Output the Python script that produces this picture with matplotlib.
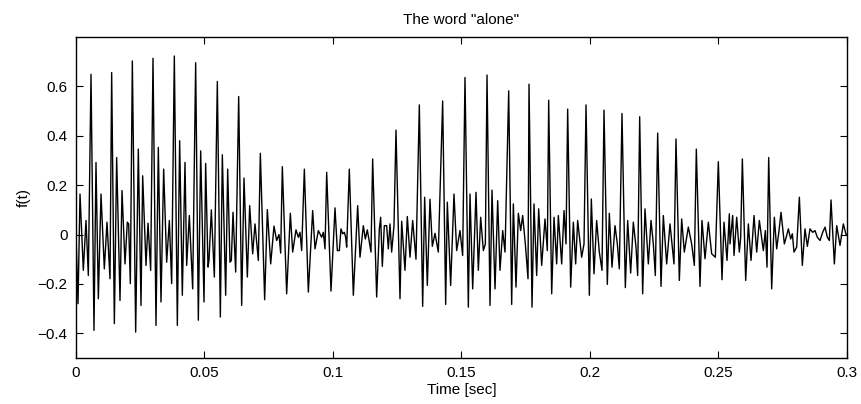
import matplotlib
matplotlib.use("Agg")
import matplotlib.pyplot as plt
import numpy as np

# Waveform vertices: time in milliseconds, amplitude f(t)
t_ms = [0.0, 0.78, 1.56, 2.85, 3.89, 4.80, 5.84, 7.00, 7.78, 8.69, 9.73, 11.02, 12.06, 13.23,
        13.88, 14.92, 15.82, 17.12, 17.90, 19.07, 19.97, 20.49, 21.14, 21.92, 23.22, 24.25,
        25.29, 25.94, 27.24, 28.02, 29.05, 29.96, 31.13, 32.03, 33.07, 34.11, 35.28, 36.32,
        37.22, 38.26, 39.43, 40.33, 41.37, 42.41, 43.06, 44.10, 45.40, 46.56, 47.60, 48.51,
        49.81, 50.45, 51.36, 51.75, 52.66, 53.83, 54.99, 56.16, 56.94, 58.24, 59.02, 59.92,
        60.44, 61.09, 62.13, 63.30, 64.46, 65.37, 66.67, 67.58, 68.74, 69.65, 70.95, 71.73,
        73.41, 74.45, 75.75, 77.04, 78.08, 78.99, 79.64, 80.28, 81.97, 83.40, 84.31, 85.60,
        86.51, 87.16, 87.81, 88.85, 90.40, 92.09, 93.00, 94.29, 95.59, 96.24, 96.89, 97.54,
        99.22, 100.78, 101.69, 102.46, 103.11, 103.76, 104.41, 104.93, 105.32, 106.35, 107.91,
        109.60, 110.50, 111.80, 112.58, 113.36, 114.78, 115.43, 116.99, 118.03, 118.55, 119.19,
        119.97, 120.88, 121.53, 122.18, 122.82, 123.73, 124.51, 126.07, 126.72, 128.01, 128.92,
        129.96, 131.00, 132.29, 133.59, 134.89, 135.66, 136.70, 137.74, 138.65, 139.69, 140.98,
        142.67, 143.84, 144.48, 145.78, 147.08, 148.12, 149.41, 150.45, 151.36, 152.66, 153.31,
        154.35, 155.65, 156.55, 157.46, 158.50, 159.28, 159.93, 161.09, 161.87, 163.04, 164.08,
        164.98, 166.02, 166.93, 168.36, 169.52, 170.17, 171.21, 172.12, 173.02, 173.80, 174.84,
        175.88, 176.27, 177.44, 178.21, 179.25, 180.03, 181.20, 182.49, 183.40, 183.92, 185.09,
        186.00, 187.03, 187.68, 188.98, 189.89, 190.66, 191.31, 192.48, 193.52, 194.42, 195.20,
        196.76, 197.67, 198.45, 199.74, 200.52, 201.56, 202.59, 203.63, 204.67, 205.45, 206.74,
        207.52, 208.56, 209.73, 210.64, 211.41, 212.45, 213.75, 214.66, 215.82, 216.86, 217.90,
        218.55, 219.33, 220.49, 221.40, 222.70, 223.74, 224.64, 225.42, 226.33, 227.63, 228.53,
        229.83, 231.13, 232.68, 233.46, 234.76, 235.67, 236.70, 238.26, 239.56, 240.60, 241.37,
        242.80, 243.58, 244.75, 246.04, 247.34, 248.77, 249.93, 251.36, 252.14, 253.31, 254.21,
        254.48, 255.52, 256.04, 257.08, 258.11, 258.63, 259.28, 260.58, 261.61, 262.65, 263.82,
        264.86, 265.89, 267.45, 268.23, 268.88, 269.53, 270.69, 271.73, 272.64, 273.55, 274.33,
        275.62, 276.53, 277.18, 278.09, 278.73, 279.38, 280.42, 281.46, 282.62, 283.66, 284.57,
        285.61, 286.65, 287.55, 288.46, 289.50, 290.54, 291.45, 292.35, 293.13, 293.78, 295.08,
        295.99, 297.28, 298.58, 299.62, 300.0]

f_vals = [0.0, -0.28, 0.164, -0.145, 0.057, -0.166, 0.649, -0.388, 0.292, -0.26, 0.164, -0.139, 0.05, -0.179,
          0.656, -0.361, 0.312, -0.267, 0.178, -0.119, 0.05, 0.043, -0.199, 0.703, -0.395, 0.346,
          -0.287, 0.238, -0.125, 0.046, -0.145, 0.714, -0.368, 0.353, -0.273, 0.265, -0.112, 0.057,
          -0.199, 0.723, -0.368, 0.38, -0.246, 0.292, -0.125, 0.077, -0.22, 0.696, -0.347, 0.339,
          -0.273, 0.288, -0.132, -0.105, 0.10, -0.172, 0.62, -0.334, 0.323, -0.246, 0.265, -0.112,
          -0.105, 0.09, -0.152, 0.559, -0.287, 0.229, -0.172, 0.117, -0.078, 0.043, -0.105, 0.329,
          -0.264, 0.101, -0.119, 0.034, -0.024, 0.0, -0.075, 0.275, -0.24, 0.086, -0.071, 0.019,
          -0.011, 0.009, -0.065, 0.265, -0.233, 0.097, -0.058, 0.016, -0.011, 0.009, -0.058, 0.252,
          -0.229, 0.108, -0.065, -0.065, 0.023, 0.003, 0.009, -0.011, -0.051, 0.265, -0.246,
          0.117, -0.092, 0.036, -0.018, 0.019, -0.071, 0.306, -0.253, 0.023, 0.07, -0.129,
          0.036, 0.036, -0.058, 0.043, -0.071, 0.036, 0.423, -0.26, 0.054, -0.145, 0.073,
          -0.092, 0.057, -0.10, 0.525, -0.291, 0.151, -0.206, 0.143, -0.048, 0.005, -0.071,
          0.541, -0.283, 0.131, -0.206, 0.164, -0.065, 0.016, -0.085, 0.636, -0.294, 0.164,
          -0.22, 0.171, -0.145, 0.07, -0.065, -0.038, 0.646, -0.287, 0.18, -0.22, 0.137,
          -0.145, 0.016, -0.071, 0.582, -0.283, 0.124, -0.213, 0.086, 0.016, 0.077, -0.038,
          -0.179, 0.609, -0.294, 0.124, -0.166, 0.104, -0.125, 0.063, -0.065, 0.544, -0.24,
          0.07, -0.119, 0.077, -0.119, 0.097, -0.038, 0.508, -0.213, 0.05, -0.119, 0.057,
          -0.092, -0.038, 0.525, -0.246, 0.144, -0.159, 0.057, -0.071, -0.145, 0.504, -0.202,
          0.086, -0.132, 0.036, -0.038, -0.139, 0.49, -0.215, 0.057, -0.156, 0.05, -0.051,
          -0.166, 0.477, -0.24, 0.104, -0.119, 0.057, -0.038, -0.166, 0.411, -0.21, 0.077,
          -0.119, 0.043, -0.119, 0.387, -0.186, 0.063, -0.071, 0.03, -0.038, -0.125, 0.346,
          -0.21, 0.057, -0.098, 0.05, -0.078, -0.092, 0.295, -0.183, 0.05, -0.105, 0.084,
          -0.038, 0.077, -0.085, 0.07, -0.071, -0.011, 0.306, -0.186, 0.043, -0.105, 0.077,
          -0.071, 0.057, -0.065, 0.016, -0.132, 0.312, -0.22, 0.07, -0.058, 0.016, 0.09,
          -0.038, -0.004, 0.023, -0.018, 0.003, -0.071, -0.051, 0.151, -0.125, 0.023, -0.048,
          0.023, 0.009, 0.016, -0.011, -0.024, 0.009, 0.03, -0.011, -0.024, 0.14, -0.119,
          0.036, -0.044, 0.043, 0.0, 0.0]

x_ticks = [0, 0.05, 0.1, 0.15, 0.2, 0.25, 0.3]
x_tick_labels = ["0", "0.05", "0.1", "0.15", "0.2", "0.25", "0.3"]
y_ticks = [-0.4, -0.2, 0, 0.2, 0.4, 0.6]
y_tick_labels = ["\u22120.4", "\u22120.2", "0", "0.2", "0.4", "0.6"]

plt.rcParams['font.family'] = ['Liberation Sans', 'DejaVu Sans']

fig = plt.figure(figsize=(8.61, 4.04), dpi=100)
ax = fig.add_axes([76/861, 1 - 358/404, (847-76)/861, (358-37)/404])

t_sec = np.array(t_ms) / 1000.0
ax.plot(t_sec, f_vals, color='black', linewidth=1.0)

ax.set_xlim(0, 0.3)
ax.set_ylim(-0.5, 0.8)
ax.set_xticks(x_ticks)
ax.set_xticklabels(x_tick_labels)
ax.set_yticks(y_ticks)
ax.set_yticklabels(y_tick_labels)
ax.tick_params(direction='in', top=True, right=True, length=5, width=0.8,
               labelsize=11, pad=6)
for s in ax.spines.values():
    s.set_linewidth(1.0)

ax.set_title('The word "alone"', fontsize=11, pad=9)
ax.set_xlabel('Time [sec]', fontsize=11, labelpad=2)
ax.set_ylabel('f(t)', fontsize=11, labelpad=5)

fig.savefig('out.png', dpi=100)
